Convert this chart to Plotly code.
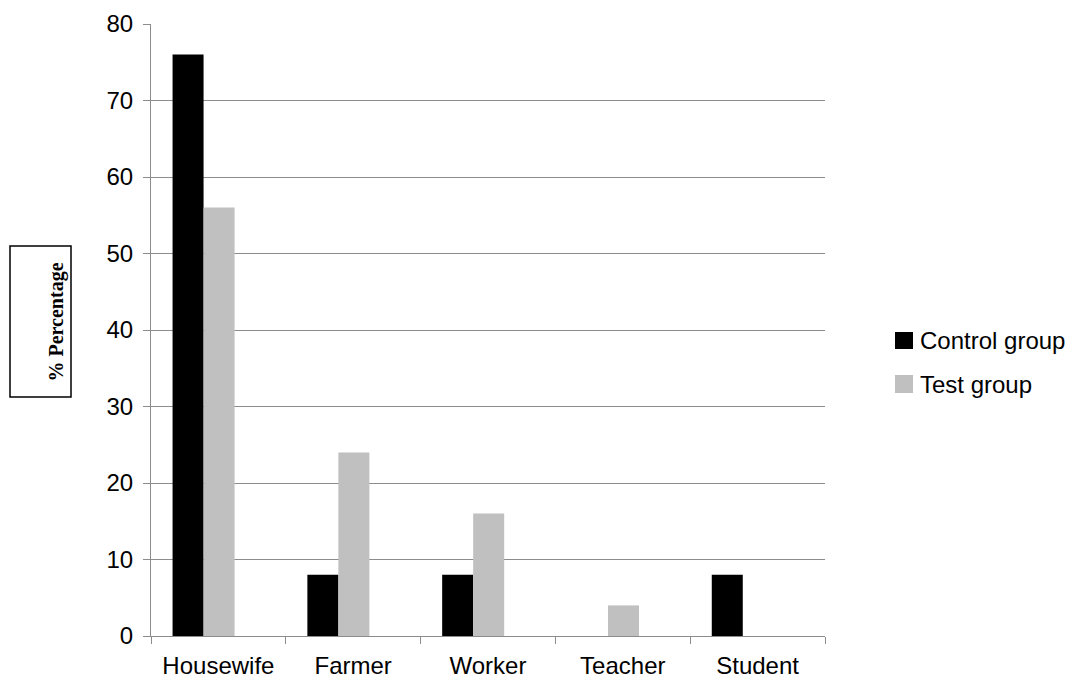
import plotly.graph_objects as go

categories = ["Housewife", "Farmer", "Worker", "Teacher", "Student"]
control_group = [76, 8, 8, 0, 8]
test_group = [56, 24, 16, 4, 0]
series_names = ["Control group", "Test group"]
y_ticks = [0, 10, 20, 30, 40, 50, 60, 70, 80]

W, H = 1082, 684
ML, MR, MT, MB = 151, 257, 24, 48
PW, PH = W - ML - MR, H - MT - MB


def px_x(x):
    return (x - ML) / PW


def px_y(y):
    return (H - MB - y) / PH


FONT = "Liberation Sans, Arial, sans-serif"
GRID = "#8c8c8c"
colors = ["#000000", "#c0c0c0"]
FS = 24

fig = go.Figure()
fig.add_trace(go.Bar(x=categories, y=control_group, name=series_names[0],
                     marker=dict(color=colors[0], line=dict(width=0)),
                     width=0.23, offset=-0.34))
fig.add_trace(go.Bar(x=categories, y=test_group, name=series_names[1],
                     marker=dict(color=colors[1], line=dict(width=0)),
                     width=0.23, offset=-0.11))

fig.update_layout(
    width=W, height=H,
    margin=dict(l=ML, r=MR, t=MT, b=MB, autoexpand=False),
    paper_bgcolor="white", plot_bgcolor="white",
    showlegend=False,
    font=dict(family=FONT, size=FS, color="black"),
    xaxis=dict(type="category", showgrid=False, showline=True, linecolor=GRID,
               linewidth=1, ticks="outside", tickson="boundaries", ticklen=7,
               tickcolor=GRID, tickfont=dict(size=FS), ticklabelstandoff=8,
               automargin=False),
    yaxis=dict(range=[0, 80], tickvals=y_ticks, showgrid=True, gridcolor=GRID,
               gridwidth=1, showline=True, linecolor=GRID, linewidth=1,
               ticks="outside", ticklen=7, tickcolor=GRID, zeroline=False,
               tickfont=dict(size=FS), ticklabelstandoff=5, automargin=False),
)

# Y-axis title in a box
fig.add_shape(type="rect", xref="paper", yref="paper",
              x0=px_x(10), x1=px_x(71), y0=px_y(397), y1=px_y(246),
              line=dict(color="black", width=1.5), fillcolor="white")
fig.add_annotation(text="<b>% Percentage</b>", xref="paper", yref="paper",
                   x=px_x(42), y=px_y(322), textangle=-90, showarrow=False,
                   font=dict(family="Liberation Serif, Times New Roman, serif",
                             size=20, color="black"))

# Legend drawn manually
legend_rows = [(332, 349), (375, 393)]
for (y0, y1), name, col in zip(legend_rows, series_names, colors):
    fig.add_shape(type="rect", xref="paper", yref="paper",
                  x0=px_x(895), x1=px_x(913), y0=px_y(y1), y1=px_y(y0),
                  line=dict(width=0), fillcolor=col)
    fig.add_annotation(text=name, xref="paper", yref="paper",
                       x=px_x(918), y=px_y((y0 + y1) / 2), xanchor="left",
                       yanchor="middle", showarrow=False,
                       font=dict(family=FONT, size=FS, color="black"))

fig.write_html("out.html")
